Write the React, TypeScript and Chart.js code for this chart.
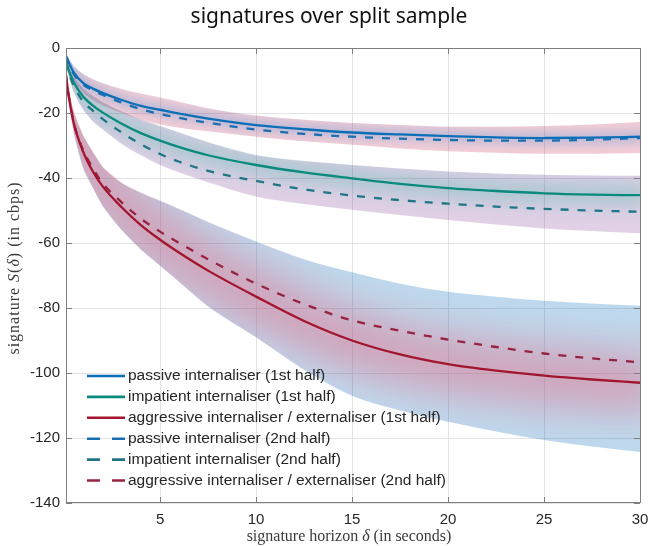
import React, { useEffect, useRef } from "react";
import { Chart, registerables } from "chart.js";

Chart.register(...registerables);

// ---------- data ----------
const HORIZON = [0.1, 0.25, 0.5, 1, 1.5, 2, 3, 4, 5, 6, 7.5, 10, 12.5, 15, 17.5, 20, 22.5, 25, 27.5, 30];

const PASSIVE_1ST = [-2.5, -4.5, -7.5, -10.8, -12.5, -13.8, -16, -17.8, -19, -20.2, -21.7, -23.7, -25, -26, -26.6, -27.1, -27.5, -27.7, -27.6, -27.3];
const IMPATIENT_1ST = [-4, -7, -10.5, -15, -17.7, -19.8, -23.3, -26.2, -28.5, -30.5, -33, -36, -38.3, -40.1, -41.8, -43.1, -44, -44.7, -45.1, -45.3];
const AGGRESSIVE_1ST = [-8.5, -15, -23, -32, -38, -42.5, -49, -54.5, -59, -63, -68.5, -76.5, -84, -90, -94.3, -97.3, -99.3, -100.8, -102, -103];

const PASSIVE_2ND = [-2.5, -4.8, -8, -11.3, -13, -14.4, -16.8, -18.8, -20.3, -21.5, -23, -25.1, -26.4, -27.3, -27.9, -28.3, -28.5, -28.5, -28.2, -27.7];
const IMPATIENT_2ND = [-4, -7.5, -11.5, -16.5, -19.3, -21.8, -26, -29.6, -32.6, -35, -37.8, -40.9, -43.5, -45.4, -46.8, -47.9, -48.8, -49.5, -50, -50.4];
const AGGRESSIVE_2ND = [-8.5, -15, -23, -31.5, -37, -41.5, -47.5, -52.5, -56.5, -60, -65, -72.5, -78.8, -83.8, -87, -89.7, -92, -94, -95.5, -96.7];

const PASSIVE_BAND_UPPER = [-1.8, -3.3, -5.5, -8, -9.6, -10.8, -12.6, -14, -15.2, -16.5, -18.5, -20.8, -22.1, -23.1, -23.7, -24.2, -24.2, -24, -23.5, -22.8];
const PASSIVE_BAND_LOWER = [-3.3, -6.2, -9.8, -13.8, -16, -17.6, -20, -22, -23.5, -24.5, -25.6, -27.3, -28.7, -29.8, -30.9, -31.8, -32.2, -32.5, -32.5, -32.3];
const IMPATIENT_BAND_UPPER = [-3.2, -5.8, -8.8, -12.5, -14.8, -16.6, -19.5, -22, -24, -26, -29, -33, -34.8, -36, -37.1, -38, -38.6, -39, -39.2, -39.3];
const IMPATIENT_BAND_LOWER = [-5, -9, -13.5, -19, -22.5, -25, -29.5, -33, -36, -38.3, -41.3, -45.7, -48, -49.8, -51.4, -52.9, -54.3, -55.5, -56.3, -57];
const AGGRESSIVE_BAND_UPPER = [-7.5, -13, -19.5, -27, -32, -36.5, -41.5, -44.5, -47, -49.5, -53.5, -59.5, -65, -69, -72.5, -75, -76.5, -77.8, -78.6, -79.3];
const AGGRESSIVE_BAND_LOWER = [-9.5, -17, -26, -37, -43, -48.5, -56, -62, -67, -72, -79.5, -89, -99, -107, -111.5, -115, -118, -120.6, -122.6, -124.3];

const X_TICKS = [5, 10, 15, 20, 25, 30];
const Y_TICKS = [0, -20, -40, -60, -80, -100, -120, -140];

const LINE_LABELS = [
  "passive internaliser (1st half)",
  "impatient internaliser (1st half)",
  "aggressive internaliser / externaliser (1st half)",
  "passive internaliser (2nd half)",
  "impatient internaliser (2nd half)",
  "aggressive internaliser / externaliser (2nd half)",
];

const TITLE = "signatures over split sample";

// ---------- styles ----------
const BLUE = "#0b6fb8";
const TEAL = "#0a8a7c";
const RED = "#a3152f";
const BLUE_D = "#1a6fb0";
const TEAL_D = "#1f7585";
const RED_D = "#962340";
const AXIS = "#7f7f7f";
const TEXT = "#262626";
const SANS = "'Liberation Sans', Arial, sans-serif";
const SERIF = "'Liberation Serif', 'Times New Roman', serif";

const pts = (ys: number[]) => HORIZON.map((x, i) => ({ x, y: ys[i] }));

function bandPair(upper: number[], lower: number[], fillColor: string, glow: any) {
  return [
    {
      label: "",
      data: pts(upper),
      fill: "+1",
      backgroundColor: fillColor,
      borderWidth: 0,
      borderColor: "rgba(0,0,0,0)",
      pointRadius: 0,
      cubicInterpolationMode: "monotone",
      order: 1,
      isBand: true,
      glow,
    },
    {
      label: "",
      data: pts(lower),
      fill: false,
      borderWidth: 0,
      borderColor: "rgba(0,0,0,0)",
      pointRadius: 0,
      cubicInterpolationMode: "monotone",
      order: 1,
      isBand: true,
    },
  ];
}

function line(label: string, ys: number[], color: string, dashed: boolean) {
  return {
    label,
    data: pts(ys),
    fill: false,
    borderColor: color,
    backgroundColor: color,
    borderWidth: 2.3,
    borderDash: dashed ? [8, 9] : [],
    pointRadius: 0,
    cubicInterpolationMode: "monotone",
    order: 0,
    isLine: true,
  };
}

function drawRuns(
  ctx: CanvasRenderingContext2D,
  runs: { t: string; f: string }[],
  cx: number,
  cy: number,
  spacing: string
) {
  (ctx as any).letterSpacing = spacing;
  let total = 0;
  for (const r of runs) {
    ctx.font = r.f;
    total += ctx.measureText(r.t).width;
  }
  let x = cx - total / 2;
  ctx.textAlign = "left";
  ctx.textBaseline = "middle";
  for (const r of runs) {
    ctx.font = r.f;
    ctx.fillText(r.t, x, cy);
    x += ctx.measureText(r.t).width;
  }
  (ctx as any).letterSpacing = "0px";
}

const decorPlugin = {
  id: "decor",
  afterDatasetDraw(chart: any, args: any) {
    const ds = chart.data.datasets[args.index];
    if (!ds || !ds.glow) return;
    const up = chart.getDatasetMeta(args.index).data;
    const lo = chart.getDatasetMeta(args.index + 1).data;
    const ce = chart.getDatasetMeta(ds.glow.center).data;
    const ctx: CanvasRenderingContext2D = chart.ctx;
    const a = chart.chartArea;
    ctx.save();
    ctx.beginPath();
    ctx.rect(a.left, a.top, a.right - a.left, a.bottom - a.top);
    ctx.clip();
    ctx.beginPath();
    up.forEach((p: any, i: number) => (i === 0 ? ctx.moveTo(p.x, p.y) : ctx.lineTo(p.x, p.y)));
    for (let i = lo.length - 1; i >= 0; i--) ctx.lineTo(lo[i].x, lo[i].y);
    ctx.closePath();
    ctx.clip();
    ctx.filter = `blur(${ds.glow.blur}px)`;
    ctx.strokeStyle = ds.glow.color;
    ctx.lineWidth = ds.glow.width;
    ctx.lineJoin = "round";
    ctx.lineCap = "round";
    ctx.beginPath();
    ce.forEach((p: any, i: number) => (i === 0 ? ctx.moveTo(p.x, p.y) : ctx.lineTo(p.x, p.y)));
    ctx.stroke();
    ctx.restore();
  },
  afterDatasetsDraw(chart: any) {
    const ctx: CanvasRenderingContext2D = chart.ctx;
    const a = chart.chartArea;
    const xs = chart.scales.x;
    const ys = chart.scales.y;
    ctx.save();
    // box
    ctx.strokeStyle = AXIS;
    ctx.lineWidth = 1;
    ctx.strokeRect(Math.round(a.left) + 0.5, Math.round(a.top) + 0.5, Math.round(a.right - a.left), Math.round(a.bottom - a.top) - 1);
    // inner ticks
    ctx.beginPath();
    for (const v of X_TICKS) {
      const px = Math.round(xs.getPixelForValue(v)) + 0.5;
      ctx.moveTo(px, a.bottom);
      ctx.lineTo(px, a.bottom - 6);
      ctx.moveTo(px, a.top);
      ctx.lineTo(px, a.top + 6);
    }
    for (const v of Y_TICKS) {
      const py = Math.round(ys.getPixelForValue(v)) + 0.5;
      ctx.moveTo(a.left, py);
      ctx.lineTo(a.left + 6, py);
      ctx.moveTo(a.right, py);
      ctx.lineTo(a.right - 6, py);
    }
    ctx.stroke();

    // legend
    const lines = chart.data.datasets.filter((d: any) => d.isLine);
    const x0 = a.left + 21;
    const x1 = a.left + 59;
    let y = 376;
    ctx.font = `15.5px ${SANS}`;
    ctx.textBaseline = "middle";
    ctx.textAlign = "left";
    for (const d of lines) {
      ctx.beginPath();
      ctx.strokeStyle = d.borderColor;
      ctx.lineWidth = 2.6;
      ctx.setLineDash(d.borderDash && d.borderDash.length ? [13, 12] : []);
      ctx.moveTo(x0, y);
      ctx.lineTo(x1, y);
      ctx.stroke();
      ctx.setLineDash([]);
      ctx.fillStyle = TEXT;
      ctx.fillText(d.label, x1 + 3, y);
      y += 20.9;
    }
    ctx.restore();
  },
  afterDraw(chart: any) {
    const ctx: CanvasRenderingContext2D = chart.ctx;
    ctx.save();
    ctx.fillStyle = "#111111";
    ctx.font = `21px 'Noto Sans', ${SANS}`;
    ctx.textAlign = "center";
    ctx.textBaseline = "middle";
    ctx.fillText(TITLE, 329, 17);

    ctx.fillStyle = "#3a3a3a";
    const n = `16px ${SERIF}`;
    const it = `italic 16px ${SERIF}`;
    drawRuns(
      ctx,
      [
        { t: "signature horizon ", f: n },
        { t: "δ", f: it },
        { t: " (in seconds)", f: n },
      ],
      349,
      537,
      "0px"
    );
    ctx.translate(15, 268);
    ctx.rotate(-Math.PI / 2);
    drawRuns(
      ctx,
      [
        { t: "signature ", f: n },
        { t: "S", f: it },
        { t: "(", f: n },
        { t: "δ", f: it },
        { t: ") (in cbps)", f: n },
      ],
      0,
      0,
      "1px"
    );
    ctx.restore();
  },
};

export default function App() {
  const ref = useRef<HTMLCanvasElement | null>(null);

  useEffect(() => {
    if (!ref.current) return;
    const datasets: any[] = [
      ...bandPair(PASSIVE_BAND_UPPER, PASSIVE_BAND_LOWER, "rgba(200,60,95,0.26)", {
        center: 6,
        color: "rgba(70,140,215,0.30)",
        width: 12,
        blur: 5,
      }),
      ...bandPair(IMPATIENT_BAND_UPPER, IMPATIENT_BAND_LOWER, "rgba(130,60,150,0.24)", {
        center: 7,
        color: "rgba(40,175,160,0.30)",
        width: 22,
        blur: 9,
      }),
      ...bandPair(AGGRESSIVE_BAND_UPPER, AGGRESSIVE_BAND_LOWER, "rgba(40,130,200,0.30)", {
        center: 8,
        color: "rgba(240,70,95,0.40)",
        width: 55,
        blur: 22,
      }),
      line(LINE_LABELS[0], PASSIVE_1ST, BLUE, false),
      line(LINE_LABELS[1], IMPATIENT_1ST, TEAL, false),
      line(LINE_LABELS[2], AGGRESSIVE_1ST, RED, false),
      line(LINE_LABELS[3], PASSIVE_2ND, BLUE_D, true),
      line(LINE_LABELS[4], IMPATIENT_2ND, TEAL_D, true),
      line(LINE_LABELS[5], AGGRESSIVE_2ND, RED_D, true),
    ];

    const chart = new Chart(ref.current, {
      type: "line",
      data: { datasets },
      options: {
        animation: false,
        responsive: true,
        maintainAspectRatio: false,
        layout: { padding: { top: 48, right: 10, left: 0, bottom: 0 } },
        plugins: {
          legend: { display: false },
          title: { display: false },
          tooltip: { enabled: false },
          filler: { propagate: false },
        },
        scales: {
          x: {
            type: "linear",
            min: 0.1,
            max: 30,
            afterBuildTicks: (s: any) => {
              s.ticks = X_TICKS.map((v) => ({ value: v }));
            },
            afterFit: (s: any) => {
              s.height = 43;
              s.paddingLeft = 0;
              s.paddingRight = 0;
            },
            grid: { color: "#e3e3e3", drawTicks: false, lineWidth: 1 },
            border: { display: false },
            ticks: {
              padding: 8,
              color: TEXT,
              font: { family: SANS, size: 15 },
              maxRotation: 0,
              autoSkip: false,
            },
          },
          y: {
            type: "linear",
            min: -140,
            max: 0,
            afterBuildTicks: (s: any) => {
              s.ticks = Y_TICKS.map((v) => ({ value: v }));
            },
            afterFit: (s: any) => {
              s.width = 66;
              s.paddingTop = 0;
              s.paddingBottom = 0;
            },
            grid: { color: "#e3e3e3", drawTicks: false, lineWidth: 1 },
            border: { display: false },
            ticks: {
              padding: 6,
              color: TEXT,
              font: { family: SANS, size: 15 },
              autoSkip: false,
            },
          },
        },
      },
      plugins: [decorPlugin],
    } as any);

    return () => chart.destroy();
  }, []);

  return (
    <div style={{ position: "absolute", left: 0, top: 0, width: 650, height: 546, background: "#ffffff" }}>
      <canvas ref={ref} />
    </div>
  );
}
